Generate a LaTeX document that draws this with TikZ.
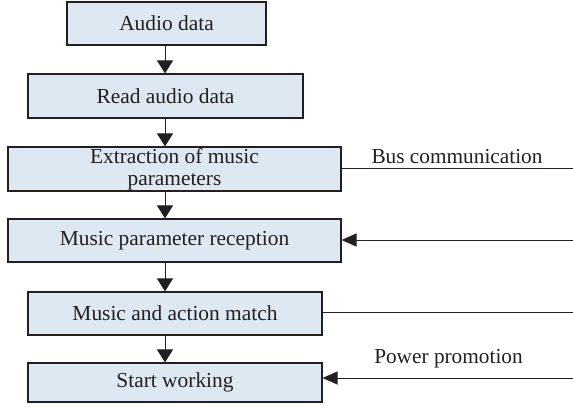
\documentclass[tikz,border=0pt]{standalone}
\usepackage{fontspec}
\setmainfont{Liberation Serif}
\usetikzlibrary{arrows.meta}
\definecolor{boxfill}{RGB}{221,232,243}
\definecolor{ink}{RGB}{35,31,32}
\tikzset{
  stepbox/.style={draw=ink, line width=1.1pt, fill=boxfill, inner sep=0pt,
    align=center, font=\fontsize{21.4}{22.5}\selectfont, text=ink},
  flow/.style={draw=ink, line width=1pt, -{Triangle[width=16pt,length=13pt]}},
  side/.style={draw=ink, line width=1pt},
  sidein/.style={draw=ink, line width=1pt, -{Triangle[width=13pt,length=15pt]}},
  tag/.style={font=\fontsize{21.3}{22}\selectfont, text=ink, inner sep=0pt, anchor=base},
}
\begin{document}
\begin{tikzpicture}[x=1pt,y=-1pt]
  \useasboundingbox (0,0) rectangle (573,407);
  % process boxes
  \node[stepbox, minimum width=199, minimum height=43] (audio)   at (166.5,23.5) {Audio data};
  \node[stepbox, minimum width=275, minimum height=44] (read)    at (165.5,96)   {Read audio data};
  \node[stepbox, minimum width=333, minimum height=44] (extract) at (174.5,169)  {Extraction of music\\parameters};
  \node[stepbox, minimum width=333, minimum height=43] (receive) at (174.5,240.5){Music parameter reception};
  \node[stepbox, minimum width=294, minimum height=43] (match)   at (175,313.5)  {Music and action match};
  \node[stepbox, minimum width=294, minimum height=39] (start)   at (175,382.5)  {Start working};
  % vertical spine of the flow
  \coordinate (spine) at (165,0);
  \draw[flow] (audio.south -| spine)   -- (read.north -| spine);
  \draw[flow] (read.south -| spine)    -- (extract.north -| spine);
  \draw[flow] (extract.south -| spine) -- (receive.north -| spine);
  \draw[flow] (receive.south -| spine) -- (match.north -| spine);
  \draw[flow] (match.south -| spine)   -- (start.north -| spine);
  % links to the right-hand side
  \coordinate (busout)  at (573,168);
  \coordinate (busin)   at (573,240);
  \coordinate (matchout) at (573,312);
  \coordinate (powerin) at (573,378);
  \draw[side] (extract.east |- busout) -- (busout);
  \draw[sidein] (busin) -- (receive.east |- busin);
  \draw[side] (match.east |- matchout) -- (matchout);
  \draw[sidein] (powerin) -- (start.east |- powerin);
  \node[tag] (buslabel)   at (457,163)   {Bus communication};
  \node[tag] (powerlabel) at (448.5,363) {Power promotion};
\end{tikzpicture}
\end{document}
